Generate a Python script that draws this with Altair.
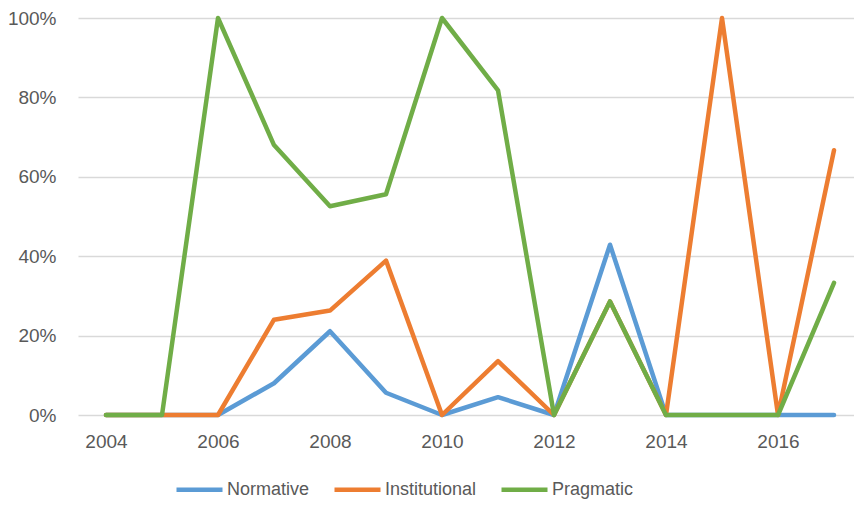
import altair as alt
import pandas as pd

years = list(range(2004, 2018))
series_names = ["Normative", "Institutional", "Pragmatic"]
normative = [0, 0, 0, 8.0, 21.1, 5.6, 0, 4.5, 0, 42.9, 0, 0, 0, 0]
institutional = [0, 0, 0, 24.0, 26.3, 38.9, 0, 13.6, 0, 28.6, 0, 100, 0, 66.7]
pragmatic = [0, 0, 100, 68.0, 52.6, 55.6, 100, 81.8, 0, 28.6, 0, 0, 0, 33.3]
colors = ["#5B9BD5", "#ED7D31", "#70AD47"]

rows = []
for i, (name, vals) in enumerate(zip(series_names, [normative, institutional, pragmatic])):
    for y, v in zip(years, vals):
        rows.append({"Year": y, "Series": name, "Value": v / 100.0, "order": i})
df = pd.DataFrame(rows)

FONT = "Liberation Sans"
TXT = "#595959"
FS = 19

chart = alt.Chart(df).mark_line(strokeWidth=4.5, strokeCap="round", strokeJoin="round").encode(
    x=alt.X("Year:Q",
            scale=alt.Scale(domain=[2003.5, 2017.357], nice=False, zero=False),
            axis=alt.Axis(values=[2004, 2006, 2008, 2010, 2012, 2014, 2016], format="d",
                          title=None, grid=False, domain=False, ticks=False,
                          labelFont=FONT, labelFontSize=FS, labelColor=TXT, labelPadding=17)),
    y=alt.Y("Value:Q",
            scale=alt.Scale(domain=[0, 1], nice=False),
            axis=alt.Axis(values=[0, 0.2, 0.4, 0.6, 0.8, 1.0], format=".0%", title=None,
                          domain=False, ticks=False, gridColor="#D9D9D9", gridWidth=1.3,
                          labelFont=FONT, labelFontSize=FS, labelColor=TXT, labelPadding=22)),
    color=alt.Color("Series:N",
                    scale=alt.Scale(domain=series_names, range=colors),
                    legend=alt.Legend(title=None, orient="none", direction="horizontal",
                                      legendX=96, legendY=446,
                                      symbolType="stroke", symbolSize=2116, symbolStrokeWidth=4.5,
                                      labelFont=FONT, labelFontSize=18, labelColor=TXT,
                                      labelOffset=2, columnPadding=15)),
    detail="Series:N",
    order=alt.Order("Year:Q"),
).properties(
    width=776, height=397,
    padding={"left": 70, "top": 10, "right": 0, "bottom": 88},
    autosize=alt.AutoSizeParams(type="none"),
).configure_view(stroke=None)

chart.save("out.html", embed_options={"renderer": "svg", "actions": False})
